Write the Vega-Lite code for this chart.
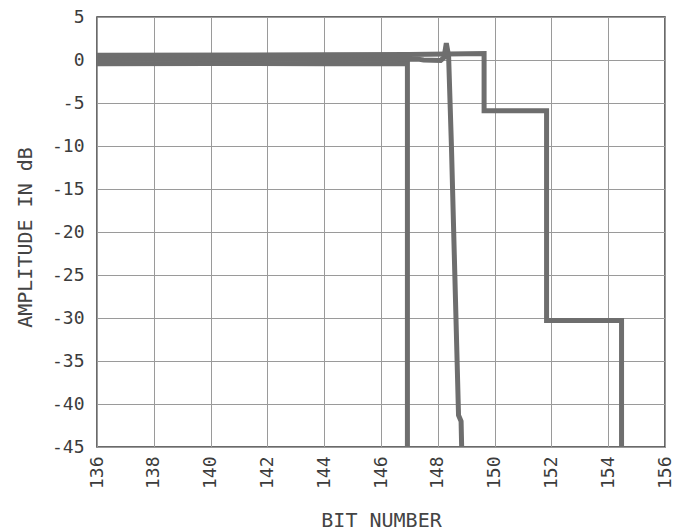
{
  "$schema": "https://vega.github.io/schema/vega-lite/v6.json",
  "autosize": {"type": "none"},
  "width": 568,
  "height": 430,
  "padding": {"left": 97, "top": 17, "right": 9, "bottom": 84},
  "background": "#ffffff",
  "config": {
    "font": "DejaVu Sans Mono",
    "view": {"stroke": "#3a3a3a", "strokeWidth": 1.5},
    "axis": {
      "gridColor": "#9a9a9a",
      "gridWidth": 1,
      "gridOpacity": 1,
      "domain": false,
      "ticks": false,
      "labelFont": "DejaVu Sans Mono",
      "labelFontSize": 18,
      "labelColor": "#3c3c3c",
      "titleFont": "DejaVu Sans Mono",
      "titleFontWeight": "normal",
      "titleColor": "#444444",
      "titleFontSize": 20
    }
  },
  "data": {
    "values": [
      {"trace": "A", "i": 0, "bit": 136, "db": -0.45},
      {"trace": "A", "i": 1, "bit": 140, "db": -0.4},
      {"trace": "A", "i": 2, "bit": 144, "db": -0.45},
      {"trace": "A", "i": 3, "bit": 146.93, "db": -0.4},
      {"trace": "A", "i": 4, "bit": 146.93, "db": -45},

      {"trace": "B", "i": 0, "bit": 136, "db": 0.05},
      {"trace": "B", "i": 1, "bit": 140, "db": 0.1},
      {"trace": "B", "i": 2, "bit": 144, "db": 0.05},
      {"trace": "B", "i": 3, "bit": 147.3, "db": 0.1},
      {"trace": "B", "i": 4, "bit": 147.5, "db": 0.0},
      {"trace": "B", "i": 5, "bit": 148.1, "db": -0.05},
      {"trace": "B", "i": 6, "bit": 148.22, "db": 0.3},
      {"trace": "B", "i": 7, "bit": 148.3, "db": 1.95},
      {"trace": "B", "i": 8, "bit": 148.38, "db": 0.5},
      {"trace": "B", "i": 9, "bit": 148.48, "db": -10},
      {"trace": "B", "i": 10, "bit": 148.73, "db": -41.3},
      {"trace": "B", "i": 11, "bit": 148.82, "db": -42},
      {"trace": "B", "i": 12, "bit": 148.84, "db": -45},

      {"trace": "C", "i": 0, "bit": 136, "db": 0.55},
      {"trace": "C", "i": 1, "bit": 144, "db": 0.6},
      {"trace": "C", "i": 2, "bit": 147, "db": 0.65},
      {"trace": "C", "i": 3, "bit": 149.63, "db": 0.75},
      {"trace": "C", "i": 4, "bit": 149.63, "db": -5.9},
      {"trace": "C", "i": 5, "bit": 151.83, "db": -5.9},
      {"trace": "C", "i": 6, "bit": 151.83, "db": -30.3},
      {"trace": "C", "i": 7, "bit": 154.47, "db": -30.3},
      {"trace": "C", "i": 8, "bit": 154.47, "db": -45}
    ]
  },
  "mark": {
    "type": "line",
    "color": "#6e6e6e",
    "strokeWidth": 5,
    "strokeJoin": "miter",
    "strokeCap": "butt",
    "clip": true
  },
  "encoding": {
    "x": {
      "field": "bit",
      "type": "quantitative",
      "scale": {"domain": [136, 156], "nice": false, "zero": false},
      "axis": {
        "title": "BIT NUMBER",
        "values": [136, 138, 140, 142, 144, 146, 148, 150, 152, 154, 156],
        "labelAngle": 270,
        "labelPadding": 9,
        "labelExpr": "'' + datum.value",
        "titleY": 79,
        "titleBaseline": "alphabetic"
      }
    },
    "y": {
      "field": "db",
      "type": "quantitative",
      "scale": {"domain": [-45, 5], "nice": false, "zero": false},
      "axis": {
        "title": "AMPLITUDE IN dB",
        "values": [-45, -40, -35, -30, -25, -20, -15, -10, -5, 0, 5],
        "labelPadding": 13,
        "labelExpr": "'' + datum.value",
        "titleX": -62,
        "titleY": 220
      }
    },
    "detail": {"field": "trace"},
    "order": {"field": "i", "type": "quantitative"}
  }
}
